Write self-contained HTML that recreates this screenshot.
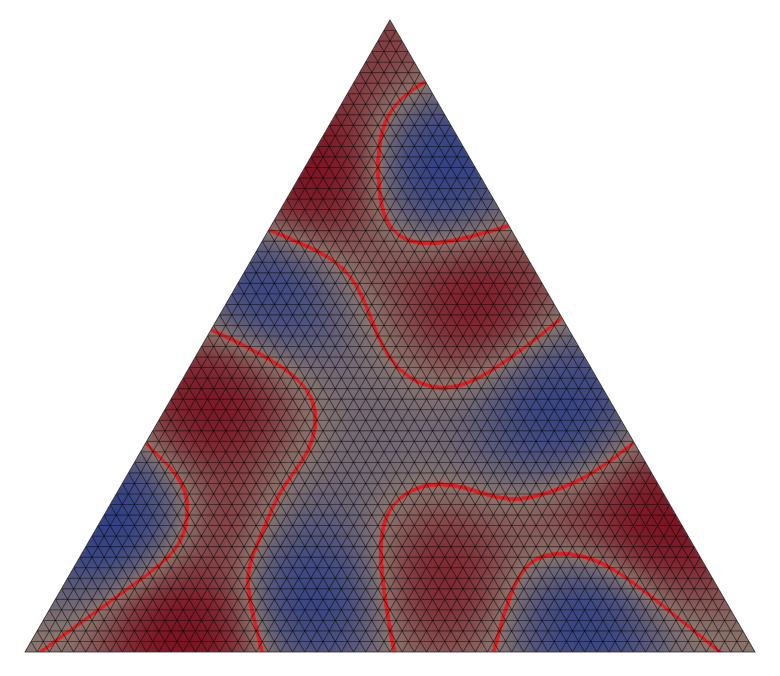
<!DOCTYPE html>
<html><head><meta charset="utf-8"><style>
html,body{margin:0;padding:0;background:#fff;width:780px;height:676px;overflow:hidden}
#wrap{position:relative;width:780px;height:676px}
canvas,svg{position:absolute;left:0;top:0}
</style></head><body>
<div id="wrap">
<canvas id="cv" width="780" height="676"></canvas>
<svg id="sv" width="780" height="676"></svg>
</div>
<script>
// blob data: x, y, amplitude (+ red, - blue), spread
const blobX = [315,478,215,658,185,440, 435,265,560,105,310,590, 390, 390, 560, 375, 228];
const blobY = [175,305,400,528,630,575, 165,290,405,520,600,612, 55, 445, 525, 265, 525];
const blobA = [1.0,0.8,0.9,1.0,1.0,0.7, -1.0,-0.8,-0.8,-1.0,-0.8,-0.9, 0.4, -0.2, 0.3, 0.15, 0.35];
const blobS = [58,58,58,58,58,58, 58,58,58,58,58,58, 58, 100, 40, 40, 35];
const N = 60;
const T = {x:390,y:20}, L={x:25,y:652}, R={x:755,y:652};
function f(x,y){let v=0;for(let i=0;i<blobX.length;i++){const dx=x-blobX[i],dy=y-blobY[i];v+=blobA[i]*Math.exp(-(dx*dx+dy*dy)/(2*blobS[i]*blobS[i]));}return v;}
function inside(x,y){if(y<T.y||y>L.y)return false;const t=(y-T.y)/(L.y-T.y);const xl=T.x+(L.x-T.x)*t,xr=T.x+(R.x-T.x)*t;return x>=xl&&x<=xr;}
const cv=document.getElementById('cv'),ctx=cv.getContext('2d');
const W=780,H=676,img=ctx.createImageData(W,H);
const F=new Float32Array(W*H);
for(let y=0;y<H;y++)for(let x=0;x<W;x++)F[y*W+x]=f(x,y);
const g=[138,118,110],b=[38,58,135],r=[122,6,24];
for(let y=0;y<H;y++)for(let x=0;x<W;x++){
 const i=(y*W+x)*4;
 if(!inside(x+0.5,y+0.5)){img.data[i]=255;img.data[i+1]=255;img.data[i+2]=255;img.data[i+3]=255;continue;}
 const v=F[y*W+x];let t=Math.tanh(Math.abs(v)*1.5);const c=v>0?r:b;
 let col=[g[0]+(c[0]-g[0])*t,g[1]+(c[1]-g[1])*t,g[2]+(c[2]-g[2])*t];
 let cont=false;
 for(const [dx,dy] of [[2,0],[0,2],[-2,0],[0,-2]]){const xx=x+dx,yy=y+dy;if(xx>=0&&yy>=0&&xx<W&&yy<H&&(F[yy*W+xx]>0)!==(v>0)){cont=true;break;}}
 if(cont)col=[225,30,35];
 img.data[i]=col[0];img.data[i+1]=col[1];img.data[i+2]=col[2];img.data[i+3]=255;
}
ctx.putImageData(img,0,0);
const sv=document.getElementById('sv'),NS='http://www.w3.org/2000/svg';
const defs=document.createElementNS(NS,'defs');
const cp=document.createElementNS(NS,'clipPath');cp.setAttribute('id','clip');
const poly=document.createElementNS(NS,'polygon');poly.setAttribute('points',`${T.x},${T.y} ${L.x},${L.y} ${R.x},${R.y}`);
cp.appendChild(poly);defs.appendChild(cp);sv.appendChild(defs);
const grp=document.createElementNS(NS,'g');grp.setAttribute('clip-path','url(#clip)');


grp.setAttribute('stroke','#000');grp.setAttribute('stroke-opacity','0.6');grp.setAttribute('stroke-width','0.8');
sv.appendChild(grp);
const s=(R.x-L.x)/N,h=(L.y-T.y)/N;
function line(x1,y1,x2,y2){const l=document.createElementNS(NS,'line');l.setAttribute('x1',x1);l.setAttribute('y1',y1);l.setAttribute('x2',x2);l.setAttribute('y2',y2);grp.appendChild(l);}
for(let k=0;k<=N;k++){const y=L.y-k*h;line(0,y,780,y);}
const len=N*h, dxs=len/Math.sqrt(3);
for(let k=-N;k<=2*N;k++){const x=L.x+k*s;line(x,L.y,x+dxs,T.y);line(x,L.y,x-dxs,T.y);}
const ol=document.createElementNS(NS,'polygon');ol.setAttribute('points',`${T.x},${T.y} ${L.x},${L.y} ${R.x},${R.y}`);
ol.setAttribute('fill','none');ol.setAttribute('stroke','#333');ol.setAttribute('stroke-width','0.8');


sv.appendChild(ol);
</script>
</body></html>
